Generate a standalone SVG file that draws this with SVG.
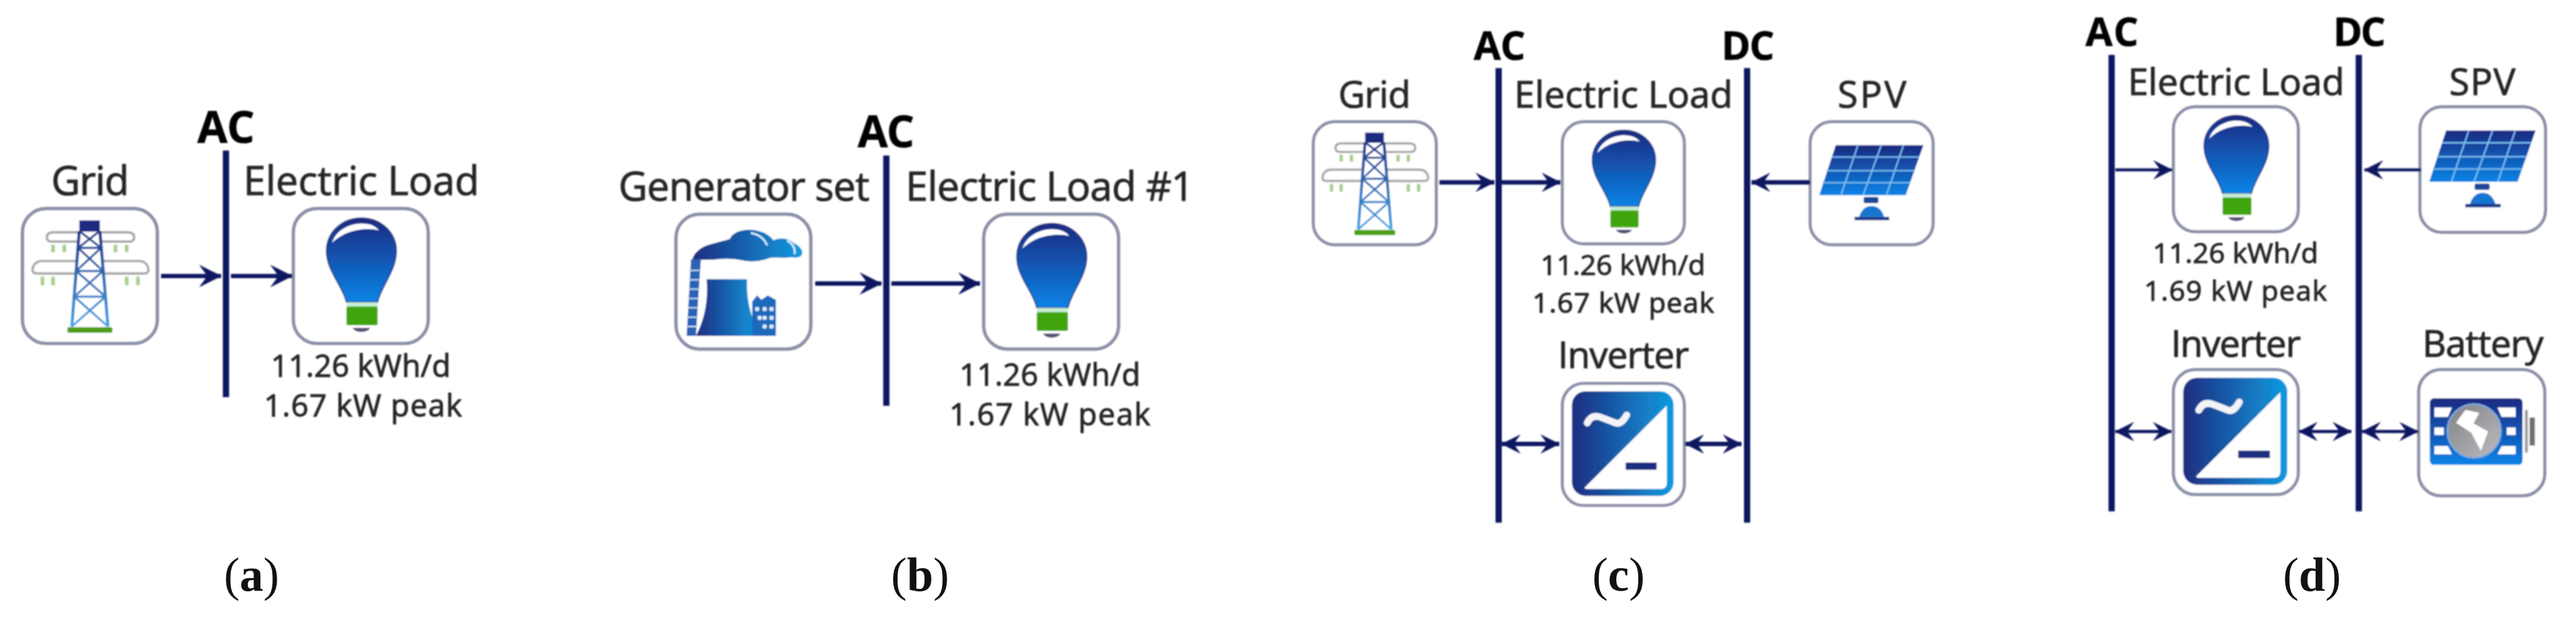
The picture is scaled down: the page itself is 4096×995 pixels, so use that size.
<svg xmlns="http://www.w3.org/2000/svg" width="4096" height="995" viewBox="0 0 4096 995">
<style>
text{font-family:"Open Sans","Noto Sans","Liberation Sans",sans-serif;fill:#262628;stroke:#262628;stroke-width:1.1px}
.bus{font-weight:700;fill:#050505;stroke:#050505;stroke-width:.6px}
.l64{font-size:64px}.l59{font-size:59px}.v50{font-size:49px}.v46{font-size:45px}.b70{font-size:70px}.b63{font-size:63px}
.cap{font-family:"Liberation Serif","DejaVu Serif",serif;font-size:76px;fill:#111;stroke:none;text-anchor:middle}
.cap tspan{font-weight:700}
.bar{stroke:#0c1560;stroke-width:10;fill:none}
.ar{stroke:#0c1560;stroke-width:7;fill:none}
.thin{stroke-width:5}
.big{marker-end:url(#head)}
.sm{marker-end:url(#heads)}
.dbl{marker-start:url(#heads);marker-end:url(#heads)}
</style>
<defs>
<filter id="soft" filterUnits="userSpaceOnUse" x="0" y="0" width="4127" height="1003"><feGaussianBlur stdDeviation="0.9"/></filter>
<marker id="head" markerUnits="userSpaceOnUse" markerWidth="36" markerHeight="36" viewBox="0 0 36 36" refX="35" refY="18" orient="auto-start-reverse"><path d="M0 0L36 18L0 36L13 18Z" fill="#0c1560"/></marker>
<marker id="heads" markerUnits="userSpaceOnUse" markerWidth="31" markerHeight="31" viewBox="0 0 36 36" refX="35" refY="18" orient="auto-start-reverse"><path d="M0 0L36 18L0 36L13 18Z" fill="#0c1560"/></marker>
<linearGradient id="gv" x1="0" y1="0" x2="0" y2="1"><stop offset="0" stop-color="#1b2a80"/><stop offset="1" stop-color="#0a84e6"/></linearGradient>
<linearGradient id="gh" x1="0" y1="0" x2="1" y2="0"><stop offset="0" stop-color="#1d2d80"/><stop offset="1" stop-color="#0f9be0"/></linearGradient>
<linearGradient id="gt" gradientUnits="userSpaceOnUse" x1="0" y1="19" x2="0" y2="189"><stop offset="0" stop-color="#1b2a80"/><stop offset="1" stop-color="#3ea6e8"/></linearGradient>
<linearGradient id="gg" x1="0" y1="0" x2="1" y2="1"><stop offset="0" stop-color="#808086"/><stop offset="1" stop-color="#bdbdc0"/></linearGradient>
<rect id="box" x="0" y="0" width="216" height="216" rx="38" fill="#fff" stroke="#8c90a8" stroke-width="5.500"/>
<g id="bulb">
<path d="M85 150C80 125 53 100 53 68C53 38 78 15 109 15C140 15 165 38 165 68C165 100 140 125 135 150Z" fill="url(#gv)" stroke="#2b3a86" stroke-width="2"/>
<path d="M62 55C68 35 90 24 109 24C122 24 132 28 137 35C120 30 85 32 62 55Z" fill="#fff"/>
<rect x="85" y="150" width="50" height="7" fill="#c6ecd2"/>
<rect x="85" y="157" width="50" height="30" rx="2" fill="#3fa50c"/>
<path d="M95 191H123C120 200 98 200 95 191Z" fill="#55557a"/>
</g>
<g id="tower">
<g fill="#fff" stroke="#a9a9a9" stroke-width="4">
<path d="M90 53H48Q39 53 39 46Q39 38 50 38H90"/>
<path d="M126 53H170Q179 53 179 46Q179 38 168 38H126"/>
<path d="M88 104H24Q16 104 16 98Q18 84 32 84H88"/>
<path d="M128 104H194Q202 104 202 98Q200 84 186 84H128"/>
</g>
<g stroke="#a8d08c" stroke-width="6" fill="none">
<path d="M49 58V70M67 58V70M149 58V70M167 58V70M32 109V123M49 109V123M167 109V123M185 109V123"/>
</g>
<rect x="91" y="19" width="33" height="18" fill="#1b2a80"/>
<g fill="none" stroke="url(#gt)">
<path stroke-width="5" d="M91 36L79 189M124 36L137 189"/>
<path stroke-width="3.500" d="M89 63H126M86 100H129M83 141H133M91 36L126 63M124 36L89 63M89 63L129 100M126 63L86 100M86 100L133 141M129 100L83 141M83 141L137 189M133 141L79 189"/>
</g>
<rect x="72" y="190" width="72" height="9" rx="2" fill="#4f9f12"/>
</g>
<g id="plant">
<path d="M26 74C28 62 40 52 56 48C68 45 78 42 86 40C90 30 104 24 120 25C136 26 150 32 156 42C166 37 180 38 188 46C198 50 204 58 202 64C200 70 192 70 184 69C172 71 160 69 150 70C136 76 118 77 106 74C92 71 80 71 68 72C54 74 40 72 26 74Z" fill="url(#gh)"/>
<path d="M120 30Q140 34 146 50M178 42Q192 50 190 64" fill="none" stroke="#d8ecfa" stroke-width="3"/>
<path d="M24 72H40L36 130L32 195H17Z" fill="#2a62b4"/>
<path d="M20 90H38M20 105H38M20 120H38M19 135H36M19 150H35M18 165H35M18 180H34" stroke="#cfe6f7" stroke-width="2" fill="none"/>
<path d="M49 104H114C112 140 122 170 135 195H32C45 170 52 140 49 104Z" fill="url(#gh)"/>
<path d="M122 140L130 130L137 137L147 130L160 137V195H122Z" fill="#1f69bd"/>
<g fill="#dcecfa"><circle cx="130" cy="152" r="3.500"/><circle cx="142" cy="152" r="3.500"/><circle cx="153" cy="152" r="3.500"/><circle cx="134" cy="166" r="3.500"/><circle cx="142" cy="166" r="3.500"/><circle cx="153" cy="166" r="3.500"/><circle cx="142" cy="180" r="3.500"/><circle cx="153" cy="180" r="3.500"/></g>
</g>
<g id="solar">
<path d="M45 41H199L168 129H16Z" fill="url(#gv)"/>
<path d="M38 62H192M29 86H184M22 107H176M84 41L54 129M125 41L93 129M164 41L134 129" stroke="#7cc0f2" stroke-width="2.500" fill="none"/>
<rect x="94" y="132" width="26" height="11" rx="3" fill="#1d4a9e"/>
<path d="M86 167Q92 148 108 148Q124 148 130 167Z" fill="#1375cf"/>
<rect x="78" y="167" width="61" height="6" fill="#1d3a8c"/>
</g>
<g id="conv">
<rect x="17" y="14" width="180" height="185" rx="24" fill="url(#gh)"/>
<path d="M39 185L185 39V176Q185 187 174 187H42Z" fill="#fff"/>
<path d="M44 70Q52 54 68 60T94 70T114 56" fill="none" stroke="#f2f4f8" stroke-width="12" stroke-linecap="round"/>
<rect x="112" y="140" width="55" height="13" fill="#1d2d80"/>
</g>
<g id="batt">
<rect x="19" y="49" width="159" height="114" rx="7" fill="url(#gv)"/>
<g fill="#fff"><path d="M27 65H57L50 81H27Z"/><rect x="27" y="99" width="16" height="13"/><path d="M27 131H50L57 145H27Z"/><path d="M135 65H166V81H142Z"/><rect x="151" y="99" width="15" height="13"/><path d="M142 131H166V145H135Z"/></g>
<circle cx="95" cy="105" r="46" fill="url(#gg)" stroke="#7cabdf" stroke-width="3"/>
<path d="M80 69L104 74L94 92L119 106L106.500 139L90 108L64 91Z" fill="#fff"/>
<rect x="182" y="69" width="5" height="73" fill="#9a9aa0"/>
<rect x="190" y="82" width="9" height="48" fill="#707070"/>
</g>
</defs>
<g transform="scale(0.99249)">
<g filter="url(#soft)">
<g id="panel-a">
<g id="a-ac-bus"><text class="bus b70" x="316" y="229" textLength="92">AC</text><line class="bar" x1="362" y1="241" x2="362" y2="636"/></g>
<g id="a-grid"><text class="l64" x="82" y="312" textLength="125">Grid</text><g transform="translate(36 334)"><use href="#box"/><use href="#tower"/></g></g>
<g id="a-load"><text class="l64" x="390" y="312" textLength="378">Electric Load</text><g transform="translate(470 334)"><use href="#box"/><use href="#bulb"/></g><text class="v50" x="434" y="604" textLength="288">11.26 kWh/d</text><text class="v50" x="423" y="667" textLength="317">1.67 kW peak</text></g>
</g>
<g id="panel-b">
<g id="b-ac-bus"><text class="bus b70" x="1374" y="236" textLength="91">AC</text><line class="bar" x1="1420" y1="249" x2="1420" y2="650"/></g>
<g id="b-generator"><text class="l64" x="991" y="321" textLength="402">Generator set</text><g transform="translate(1083 343)"><use href="#box"/><use href="#plant"/></g></g>
<g id="b-load"><text class="l64" x="1451" y="321" textLength="462">Electric Load #1</text><g transform="translate(1576 343)"><use href="#box"/><use href="#bulb"/></g><text class="v50" x="1537" y="618" textLength="290">11.26 kWh/d</text><text class="v50" x="1521" y="681" textLength="322">1.67 kW peak</text></g>
</g>
<g id="panel-c">
<g id="c-ac-bus"><text class="bus b63" x="2361" y="96" textLength="83">AC</text><line class="bar" x1="2401" y1="109" x2="2401" y2="837"/></g>
<g id="c-dc-bus"><text class="bus b63" x="2758" y="96" textLength="85">DC</text><line class="bar" x1="2799" y1="109" x2="2799" y2="837"/></g>
<g id="c-grid"><text class="l59" x="2144" y="172" textLength="116">Grid</text><g transform="translate(2104 195) scale(.912)"><use href="#box"/><use href="#tower"/></g></g>
<g id="c-load"><text class="l59" x="2426" y="172" textLength="350">Electric Load</text><g transform="translate(2503 195) scale(.905)"><use href="#box"/><use href="#bulb"/></g><text class="v46" x="2468" y="440" textLength="264">11.26 kWh/d</text><text class="v46" x="2455" y="501" textLength="291">1.67 kW peak</text></g>
<g id="c-spv"><text class="l59" x="2944" y="172" textLength="110">SPV</text><g transform="translate(2900 195) scale(.912)"><use href="#box"/><use href="#solar"/></g></g>
<g id="c-inverter"><text class="l59" x="2496" y="589" textLength="210">Inverter</text><g transform="translate(2503 614) scale(.905)"><use href="#box"/><use href="#conv"/></g></g>
</g>
<g id="panel-d">
<g id="d-ac-bus"><text class="bus b63" x="3341" y="74" textLength="85">AC</text><line class="bar" x1="3383" y1="88" x2="3383" y2="819"/></g>
<g id="d-dc-bus"><text class="bus b63" x="3738" y="74" textLength="84">DC</text><line class="bar" x1="3779" y1="88" x2="3779" y2="819"/></g>
<g id="d-load"><text class="l59" x="3409" y="152" textLength="347">Electric Load</text><g transform="translate(3482 171) scale(.926)"><use href="#box"/><use href="#bulb"/></g><text class="v46" x="3449" y="421" textLength="265">11.26 kWh/d</text><text class="v46" x="3435" y="482" textLength="293">1.69 kW peak</text></g>
<g id="d-spv"><text class="l59" x="3924" y="152" textLength="106">SPV</text><g transform="translate(3877 171) scale(.931)"><use href="#box"/><use href="#solar"/></g></g>
<g id="d-inverter"><text class="l59" x="3478" y="571" textLength="208">Inverter</text><g transform="translate(3482 592) scale(.926)"><use href="#box"/><use href="#conv"/></g></g>
<g id="d-battery"><text class="l59" x="3881" y="571" textLength="194">Battery</text><g transform="translate(3875 592) scale(.935)"><use href="#box"/><use href="#batt"/></g></g>
</g>
<g id="connectors">
<line class="ar big" x1="258" y1="442" x2="354" y2="442"/>
<line class="ar big" x1="370" y1="442" x2="468" y2="442"/>
<line class="ar big" x1="1306" y1="454" x2="1412" y2="454"/>
<line class="ar big" x1="1428" y1="454" x2="1570" y2="454"/>
<line class="ar sm" x1="2306" y1="292" x2="2394" y2="292"/>
<line class="ar sm" x1="2404" y1="292" x2="2500" y2="292"/>
<line class="ar sm" x1="2900" y1="292" x2="2806" y2="292"/>
<line class="ar dbl" x1="2406" y1="711" x2="2498" y2="711"/>
<line class="ar dbl" x1="2700" y1="711" x2="2790" y2="711"/>
<line class="ar thin sm" x1="3389" y1="272" x2="3480" y2="272"/>
<line class="ar thin sm" x1="3879" y1="272" x2="3788" y2="272"/>
<line class="ar thin dbl" x1="3389" y1="691" x2="3479" y2="691"/>
<line class="ar thin dbl" x1="3683" y1="691" x2="3767" y2="691"/>
<line class="ar thin dbl" x1="3784" y1="691" x2="3874" y2="691"/>
</g>
</g>
<g id="captions">
<text class="cap" x="403" y="946">(<tspan>a</tspan>)</text>
<text class="cap" x="1474" y="946">(<tspan>b</tspan>)</text>
<text class="cap" x="2593" y="946">(<tspan>c</tspan>)</text>
<text class="cap" x="3704" y="946">(<tspan>d</tspan>)</text>
</g>
</g>
</svg>
